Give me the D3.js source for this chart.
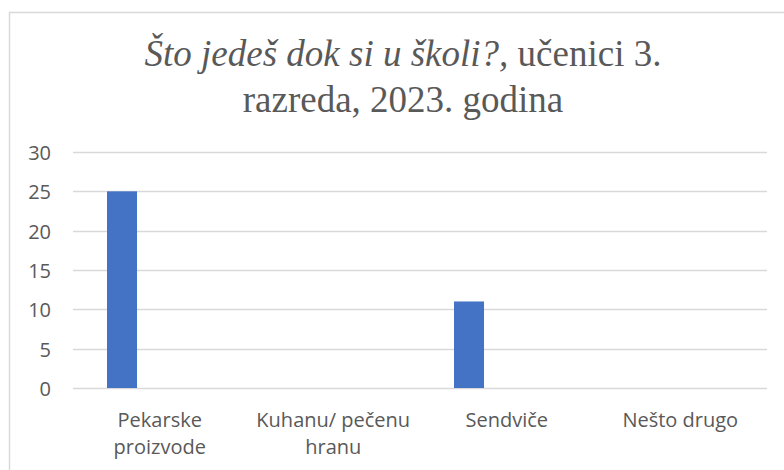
<!DOCTYPE html>
<html>
<head>
<meta charset="utf-8">
<script src="https://cdn.jsdelivr.net/npm/d3@7"></script>
<style>
  html, body { margin: 0; padding: 0; background: #fff; }
  svg { display: block; }
</style>
</head>
<body>
<svg id="chart" width="784" height="470"></svg>
<script>
const categories = ["Pekarske proizvode", "Kuhanu/ pečenu hranu", "Sendviče", "Nešto drugo"];
const categoryLines = [["Pekarske", "proizvode"], ["Kuhanu/ pečenu", "hranu"], ["Sendviče"], ["Nešto drugo"]];
const values = [25, 0, 11, 0];
const yTicks = [0, 5, 10, 15, 20, 25, 30];
const titleItalic = "Što jedeš dok si u školi?,";
const titleRegular = " učenici 3.";
const titleLine2 = "razreda, 2023. godina";

const svg = d3.select("#chart");
const W = 784, H = 470;
svg.append("rect").attr("width", W).attr("height", H).attr("fill", "#fff");

// chart frame
svg.append("path")
  .attr("d", `M9.5,${H + 2} V12.5 H${W + 2}`)
  .attr("fill", "none").attr("stroke", "#d9d9d9").attr("stroke-width", 1.5);

const plot = { left: 73, right: 767, top: 152, bottom: 388 };
const x = d3.scaleBand().domain(categories).range([plot.left, plot.right]).padding(0);
const y = d3.scaleLinear().domain([0, 30]).range([plot.bottom, plot.top]);

// gridlines
svg.append("g").selectAll("line").data(yTicks).join("line")
  .attr("x1", plot.left).attr("x2", plot.right)
  .attr("y1", d => Math.round(y(d)) + 0.5).attr("y2", d => Math.round(y(d)) + 0.5)
  .attr("stroke", "#d9d9d9").attr("stroke-width", 1.5);

// y axis labels
const yAxis = d3.axisLeft(y).tickValues(yTicks).tickSize(0).tickPadding(0);
const gy = svg.append("g").attr("transform", `translate(51,1)`).call(yAxis);
gy.select(".domain").remove();
gy.selectAll("text")
  .attr("font-family", "'Open Sans', sans-serif").attr("font-size", 20)
  .attr("fill", "#595959");

// bars
const bw = x.bandwidth();
svg.append("g").selectAll("rect").data(categories.map((c, i) => ({ c, v: values[i] })).filter(d => d.v > 0)).join("rect")
  .attr("x", d => x(d.c) + bw * 0.196)
  .attr("width", bw * 0.173)
  .attr("y", d => y(d.v))
  .attr("height", d => y(0) - y(d.v))
  .attr("fill", "#4472C4");

// category labels
const xl = svg.append("g");
categories.forEach((c, i) => {
  const t = xl.append("text")
    .attr("x", x(c) + bw / 2).attr("y", 427)
    .attr("text-anchor", "middle")
    .attr("font-family", "'Open Sans', sans-serif").attr("font-size", 20)
    .attr("fill", "#595959");
  categoryLines[i].forEach((ln, j) => {
    t.append("tspan").attr("x", x(c) + bw / 2).attr("dy", j === 0 ? 0 : 27).text(ln);
  });
});

// title
const tt = svg.append("text")
  .attr("x", 403).attr("y", 66)
  .attr("text-anchor", "middle")
  .attr("font-family", "'Liberation Serif', 'Times New Roman', serif")
  .attr("font-size", 37).attr("fill", "#595959");
tt.append("tspan").attr("font-style", "italic").text(titleItalic);
tt.append("tspan").text(titleRegular);
svg.append("text")
  .attr("x", 403).attr("y", 112)
  .attr("text-anchor", "middle")
  .attr("font-family", "'Liberation Serif', 'Times New Roman', serif")
  .attr("font-size", 37).attr("fill", "#595959")
  .text(titleLine2);
</script>
</body>
</html>
